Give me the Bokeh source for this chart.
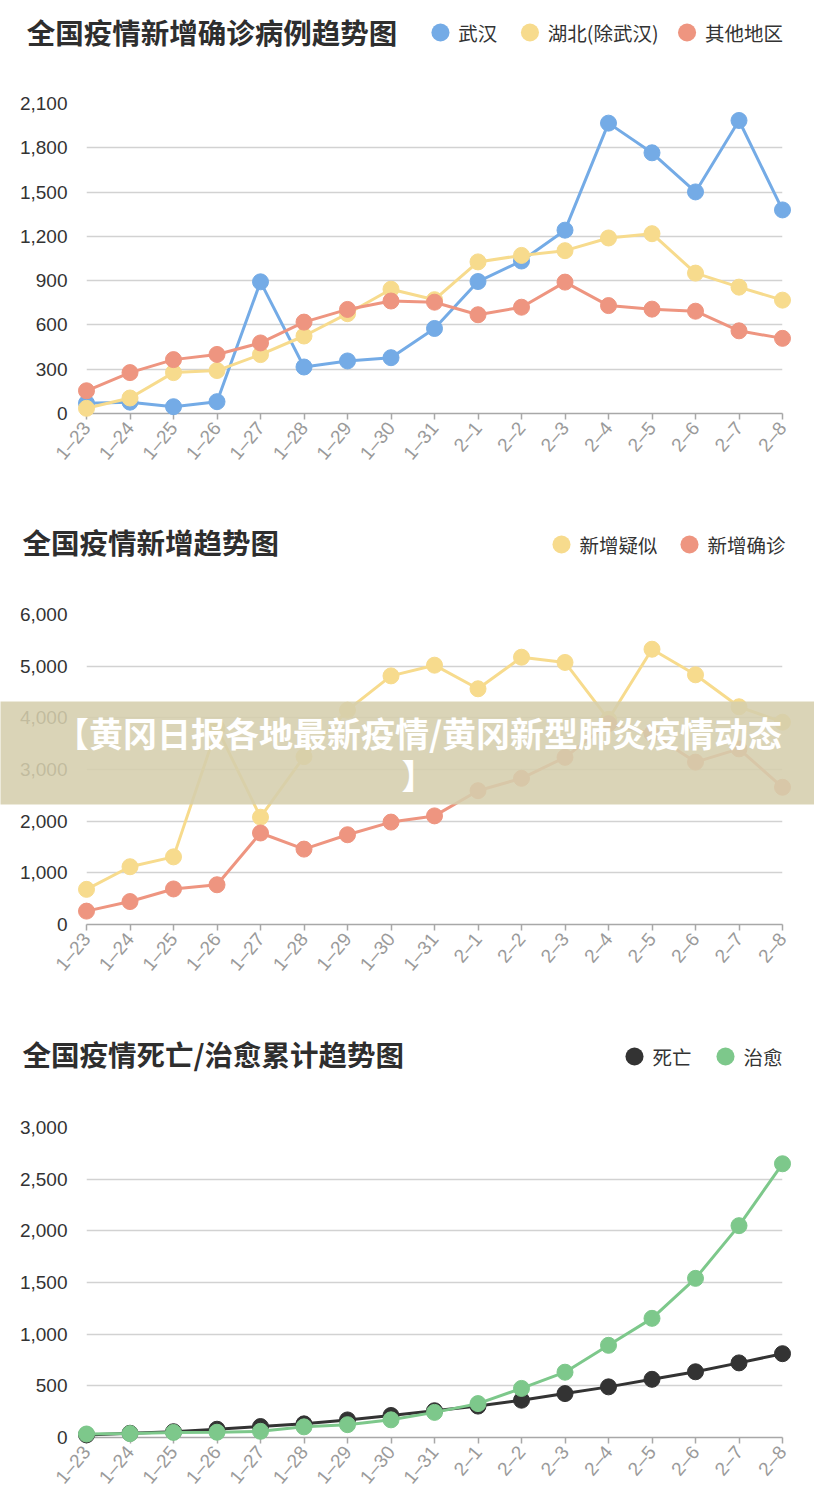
import math
from bokeh.plotting import figure
from bokeh.models import Range1d, FixedTicker, NumeralTickFormatter, ColumnDataSource
from bokeh.core.properties import value
from bokeh.layouts import column
from bokeh.embed import file_html
from bokeh.resources import INLINE

dates = ["1–23", "1–24", "1–25", "1–26", "1–27", "1–28", "1–29", "1–30", "1–31",
         "2–1", "2–2", "2–3", "2–4", "2–5", "2–6", "2–7", "2–8"]

# chart 1: new confirmed
wuhan = [70, 77, 46, 80, 892, 315, 356, 378, 576, 894, 1033, 1242, 1967, 1766, 1501, 1985, 1379]
hubei_ex = [35, 105, 277, 291, 399, 525, 676, 842, 771, 1027, 1071, 1103, 1189, 1218, 951, 856, 768]
others = [154, 277, 365, 400, 478, 619, 705, 762, 754, 669, 720, 890, 731, 707, 693, 560, 509]

# chart 2: new suspected / new confirmed
suspected = [680, 1118, 1309, 3806, 2077, 3248, 4148, 4812, 5019, 4562, 5173, 5072, 3971, 5328, 4833, 4214, 3916]
confirmed = [259, 444, 688, 769, 1771, 1459, 1737, 1982, 2102, 2590, 2829, 3235, 3887, 3694, 3143, 3399, 2656]

# chart 3: cumulative deaths / cured
deaths = [25, 41, 56, 80, 106, 132, 170, 213, 259, 304, 361, 425, 490, 563, 636, 722, 811]
cured = [34, 38, 49, 51, 60, 103, 124, 171, 243, 328, 475, 632, 892, 1153, 1540, 2050, 2649]

titles = ["全国疫情新增确诊病例趋势图", "全国疫情新增趋势图", "全国疫情死亡/治愈累计趋势图"]
legend1 = ["武汉", "湖北(除武汉)", "其他地区"]
legend2 = ["新增疑似", "新增确诊"]
legend3 = ["死亡", "治愈"]
banner_lines = ["【黄冈日报各地最新疫情/黄冈新型肺炎疫情动态", "】"]

BLUE = "#74abe6"
YELLOW = "#f7db8d"
RED = "#ee9580"
BLACK = "#333333"
GREEN = "#7dc88b"

CJK = "Noto Sans CJK SC"
NUM = "Liberation Sans"

xs = list(range(len(dates)))


def make_fig(height, left, top, bottom, ymax, ystep):
    right = 32
    p = figure(width=814, height=height, output_backend="svg", toolbar_location=None, tools="",
               x_range=Range1d(0, len(dates) - 1), y_range=Range1d(0, ymax),
               min_border_left=left, min_border_right=right, min_border_top=top,
               min_border_bottom=bottom)
    # pixel ranges (canvas coordinates) for header / overlay decorations
    p.extra_x_ranges = {"px": Range1d(left, 814 - right)}
    p.extra_y_ranges = {"px": Range1d(height - bottom, top)}
    p.outline_line_color = None
    p.background_fill_color = "white"
    p.border_fill_color = "white"
    p.xgrid.grid_line_color = None
    p.ygrid.grid_line_color = "#d2d2d2"
    p.ygrid.grid_line_width = 1.4
    p.yaxis.ticker = FixedTicker(ticks=list(range(0, ymax + 1, ystep)))
    p.yaxis.formatter = NumeralTickFormatter(format="0,0")
    p.yaxis.axis_line_color = None
    p.yaxis.major_tick_line_color = None
    p.yaxis.minor_tick_line_color = None
    p.yaxis.major_label_standoff = 13
    p.yaxis.major_label_text_font = NUM
    p.yaxis.major_label_text_font_size = "19px"
    p.yaxis.major_label_text_color = "#333333"
    p.xaxis.ticker = FixedTicker(ticks=xs)
    p.xaxis.major_label_overrides = {i: d for i, d in enumerate(dates)}
    p.xaxis.axis_line_color = "#a8a8a8"
    p.xaxis.axis_line_width = 1.5
    p.xaxis.major_tick_line_color = "#a8a8a8"
    p.xaxis.major_tick_line_width = 1.5
    p.xaxis.major_tick_out = 6
    p.xaxis.major_tick_in = 0
    p.xaxis.minor_tick_line_color = None
    p.xaxis.major_label_orientation = math.radians(50)
    p.xaxis.major_label_standoff = 5
    p.xaxis.major_label_text_font = NUM
    p.xaxis.major_label_text_font_size = "19px"
    p.xaxis.major_label_text_color = "#9a9a9a"
    return p


def add_series(p, ys, color):
    p.line(xs, ys, line_color=color, line_width=3, level="overlay")
    p.scatter(xs, ys, size=16, fill_color=color, line_color=color, level="overlay")


def add_header(p, title, ty, labels, centers, colors, ly):
    p.text(x=[22], y=[ty], text=[title], text_font=value(CJK), text_font_style="bold",
           text_font_size=value("28.5px"), text_color="#2e2e2e", text_baseline="middle",
           text_align="left", x_range_name="px", y_range_name="px", level="overlay")
    # legend dots: round-capped, near-zero-length strokes
    for c, col in zip(centers, colors):
        p.line(x=[c - 0.05, c + 0.05], y=[ly, ly], line_color=col, line_width=18,
               line_cap="round", x_range_name="px", y_range_name="px", level="overlay")
    src = ColumnDataSource(dict(tx=[c + 18 for c in centers], y=[ly] * len(centers),
                                label=labels))
    p.text("tx", "y", text="label", source=src, text_font=value(CJK),
           text_font_size=value("19.5px"), text_color="#333333", text_baseline="middle",
           text_align="left", x_range_name="px", y_range_name="px", level="overlay")


p1 = make_fig(512, 82, 103, 99, 2100, 300)
add_series(p1, wuhan, BLUE)
add_series(p1, hubei_ex, YELLOW)
add_series(p1, others, RED)
add_header(p1, titles[0], 31, legend1, [438, 528, 686], [BLUE, YELLOW, RED], 32)

p2 = make_fig(512, 86, 102, 100, 6000, 1000)
add_series(p2, suspected, YELLOW)
add_series(p2, confirmed, RED)
add_header(p2, titles[1], 29, legend2, [561, 689], [YELLOW, RED], 32)
p2.quad(left=[0], right=[814], top=[189], bottom=[292], fill_color="#d5cead", fill_alpha=0.88,
        line_color=None, x_range_name="px", y_range_name="px", level="overlay")
p2.text(x=[418, 418], y=[220, 262], text=banner_lines, text_font=value(CJK),
        text_font_style="bold", text_font_size=value("34px"), text_color="white",
        text_baseline="middle", text_align="center", x_range_name="px", y_range_name="px",
        level="overlay")

p3 = make_fig(482, 86, 103, 69, 3000, 500)
add_series(p3, deaths, BLACK)
add_series(p3, cured, GREEN)
add_header(p3, titles[2], 29, legend3, [634, 725], [BLACK, GREEN], 32)

layout = column(p1, p2, p3, spacing=0)
open("out.html", "w").write(file_html(layout, INLINE))
